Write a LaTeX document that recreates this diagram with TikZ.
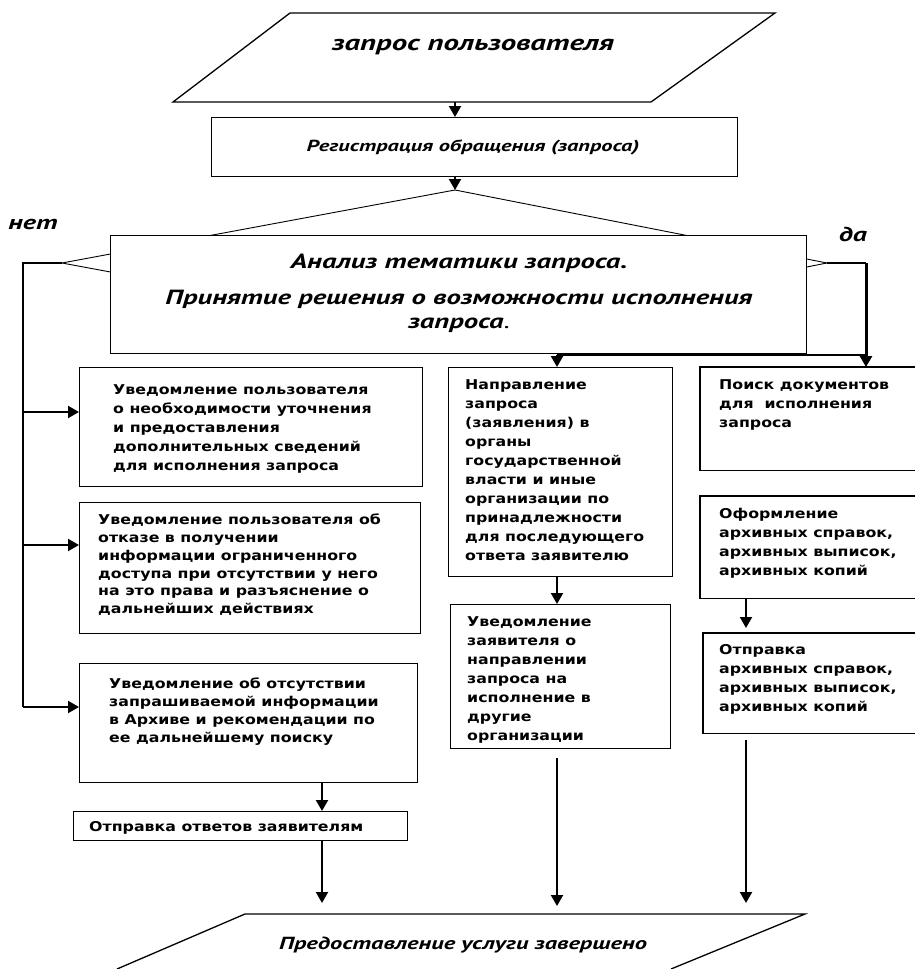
\documentclass[tikz,border=0pt]{standalone}
\usepackage{fontspec}
\setmainfont{Liberation Sans}
\newfontfamily\bodyfnt[FakeStretch=1.17]{DejaVu Sans}
\newfontfamily\ttlfnt[FakeStretch=1.4]{PT Sans}
\usetikzlibrary{arrows.meta}

\begin{document}
\begin{tikzpicture}[x=1pt, y=-1pt,
    box/.style={draw, line width=1.3pt, inner sep=0pt, anchor=north west, fill=white},
    obox/.style={inner sep=0pt, anchor=north west},
    txt/.style={anchor=north west, inner sep=0pt, align=left, font=\bodyfnt\bfseries\fontsize{13.5}{19}\selectfont},
    ttl/.style={inner sep=0pt, align=center},
    line/.style={line width=1.5pt},
    arr/.style={-{Triangle[length=11pt,width=12pt]}, line width=2.2pt},
    romb/.style={line width=0.9pt}
]
    \useasboundingbox (0,0) rectangle (915,969);

    % Вход: запрос пользователя
    \coordinate (p1) at (173,102);
    \coordinate (p2) at (290,13);
    \coordinate (p3) at (775,13);
    \coordinate (p4) at (651,102);
    \draw[line width=1.3pt] (p1) -- (p2) -- (p3) -- (p4) -- cycle;
    \node[ttl, font=\ttlfnt\bfseries\itshape\fontsize{22}{26}\selectfont] (zapros) at (473,47) {запрос пользователя};

    % Регистрация
    \node[box, minimum width=526pt, minimum height=59pt] (reg) at (211,117) {};
    \node[ttl, font=\ttlfnt\bfseries\itshape\fontsize{16}{20}\selectfont] (regt) at (473,147) {Регистрация обращения (запроса)};

    % Ромб решения (закрыт прямоугольником)
    \coordinate (rv) at (455,190);
    \coordinate (rl) at (62,263);
    \coordinate (rr) at (827,263);
    \coordinate (rb) at (455,336);
    \draw[romb] (rv) -- (rl) -- (rb) -- (rr) -- cycle;
    \node[box, minimum width=696pt, minimum height=118pt] (anal) at (110,235) {};
    \node[ttl, font=\ttlfnt\bfseries\itshape\fontsize{20.5}{24}\selectfont] (analt) at (459,293)
        {Анализ тематики запроса.\\[12pt] Принятие решения о возможности исполнения\\ запроса{\upshape\mdseries.}};
    \node[ttl, font=\ttlfnt\bfseries\itshape\fontsize{20}{24}\selectfont] (net) at (33,224) {нет};
    \node[ttl, font=\ttlfnt\bfseries\itshape\fontsize{20}{24}\selectfont] (da) at (853,234) {да};

    % Левая ветвь
    \node[box, minimum width=343pt, minimum height=119pt] (uv1) at (79,367) {};
    \node[txt] (uv1t) at (113,384) {Уведомление пользователя\\ о необходимости уточнения\\ и предоставления\\ дополнительных сведений\\ для исполнения запроса};
    \node[box, minimum width=341pt, minimum height=131pt] (uv2) at (79,502) {};
    \node[txt, font=\bodyfnt\bfseries\fontsize{13.5}{17.7}\selectfont] (uv2t) at (98,514) {Уведомление пользователя об\\ отказе в получении\\ информации ограниченного\\ доступа при отсутствии у него\\ на это права и разъяснение о\\ дальнейших действиях};
    \node[box, minimum width=338pt, minimum height=119pt] (uv3) at (79,663) {};
    \node[txt, font=\bodyfnt\bfseries\fontsize{13.5}{18}\selectfont] (uv3t) at (109,678) {Уведомление об отсутствии\\ запрашиваемой информации\\ в Архиве и рекомендации по\\ ее дальнейшему поиску};
    \node[box, minimum width=334pt, minimum height=29pt] (otv) at (73,811) {};
    \node[txt] (otvt) at (89,821) {Отправка ответов заявителям};

    % Средняя ветвь
    \node[box, minimum width=224pt, minimum height=209pt] (napr) at (448,367) {};
    \node[txt] (naprt) at (465,379) {Направление\\ запроса\\ (заявления) в\\ органы\\ государственной\\ власти и иные\\ организации по\\ принадлежности\\ для последующего\\ ответа заявителю};
    \node[box, minimum width=220pt, minimum height=144pt] (uvz) at (450,604) {};
    \node[txt] (uvzt) at (467,616) {Уведомление\\ заявителя о\\ направлении\\ запроса на\\ исполнение в\\ другие\\ организации};

    % Правая ветвь (обрезана краем)
    \node[obox, minimum width=215pt, minimum height=103pt] (poisk) at (700,367) {};
    \node[obox, minimum width=215pt, minimum height=102pt] (oform) at (700,496) {};
    \node[obox, minimum width=212pt, minimum height=100pt] (otpr) at (703,633) {};
    \foreach \b in {poisk, oform, otpr}
        \draw[line width=1.3pt] (\b.north east) -- (\b.north west) -- (\b.south west) -- (\b.south east);
    \node[txt] (poiskt) at (719,379) {Поиск документов\\ для\ \ исполнения\\ запроса};
    \node[txt] (oformt) at (719,508) {Оформление\\ архивных справок,\\ архивных выписок,\\ архивных копий};
    \node[txt] (otprt) at (719,644) {Отправка\\ архивных справок,\\ архивных выписок,\\ архивных копий};

    % Конец
    \coordinate (f1) at (117,969);
    \coordinate (f2) at (245,914);
    \coordinate (f3) at (805,914);
    \coordinate (f4) at (671,969);
    \draw[line width=1.3pt] (f1) -- (f2) -- (f3) -- (f4);
    \node[ttl, font=\ttlfnt\bfseries\itshape\fontsize{17.5}{20}\selectfont] (fin) at (463,945) {Предоставление услуги завершено};

    % Стрелки сверху
    \draw[arr] (rv |- p1) -- (rv |- reg.north);
    \draw[arr] (rv |- reg.south) -- (rv);

    % Ветвь "нет"
    \coordinate (nc) at (23,263);
    \coordinate (n1) at (23,412);
    \coordinate (n2) at (23,545);
    \coordinate (n3) at (23,707);
    \draw[line] (rl) -- (nc) -- (n3);
    \draw[arr] (n1) -- (n1 -| uv1.west);
    \draw[arr] (n2) -- (n2 -| uv2.west);
    \draw[arr] (n3) -- (n3 -| uv3.west);

    % Ветвь "да"
    \coordinate (dc) at (866,263);
    \coordinate (db) at (866,355);
    \coordinate (cm) at (557,355);
    \draw[line] (rr) -- (dc);
    \draw[arr, line width=3pt] (dc) -- (dc |- poisk.north);
    \draw[line] (db) -- (cm);
    \draw[arr] (cm) -- (cm |- napr.north);

    % Стрелки вниз
    \coordinate (cl) at (322,0);
    \coordinate (cr) at (746,0);
    \draw[arr] (cm |- napr.south) -- (cm |- uvz.north);
    \draw[arr] (cr |- oform.south) -- ([yshift=5pt]cr |- otpr.north);
    \draw[arr] (cl |- uv3.south) -- (cl |- otv.north);
    \draw[arr, shorten >=11pt] (cl |- otv.south) -- (cl |- f2);
    \draw[arr, shorten <=9pt, shorten >=8pt] (cm |- uvz.south) -- (cm |- f2);
    \draw[arr, shorten <=7pt, shorten >=11pt] (cr |- otpr.south) -- (cr |- f2);
\end{tikzpicture}
\end{document}
